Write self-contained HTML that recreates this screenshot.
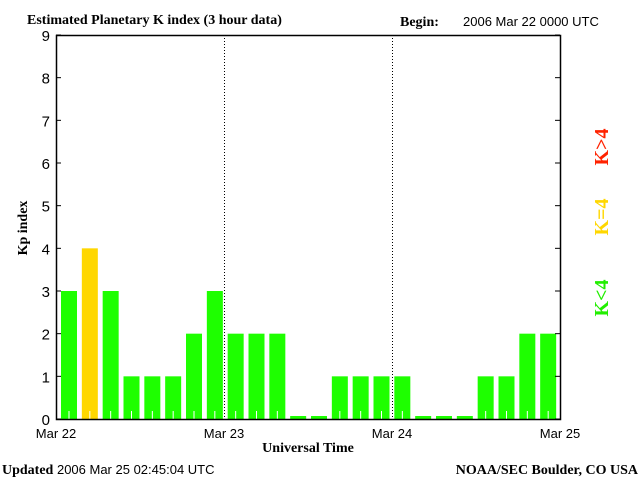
<!DOCTYPE html>
<html><head><meta charset="utf-8"><style>
body{margin:0;background:#fff;width:640px;height:480px;overflow:hidden}
svg{display:block}
.s{font-family:"Liberation Serif",serif;font-weight:bold}
.m{font-family:"Liberation Sans",sans-serif}
</style></head><body>
<svg id="c" width="640" height="480">
<text class="s" x="27" y="24" font-size="14">Estimated Planetary K index (3 hour data)</text>
<text class="s" x="400" y="26" font-size="14">Begin:</text>
<text class="m" x="463" y="26" font-size="13">2006 Mar 22 0000 UTC</text>
<text class="s" transform="translate(27,228) rotate(-90)" text-anchor="middle" font-size="14">Kp index</text>
<text class="s" x="308" y="452" text-anchor="middle" font-size="14">Universal Time</text>
<text x="2" y="474" font-size="14"><tspan class="s">Updated</tspan><tspan class="m" font-size="13"> 2006 Mar 25 02:45:04 UTC</tspan></text>
<text class="s" x="638" y="474" text-anchor="end" font-size="14">NOAA/SEC Boulder, CO USA</text>
<text class="s" transform="translate(608,298) rotate(-90)" text-anchor="middle" font-size="20" fill="#22ee00">K&lt;4</text>
<text class="s" transform="translate(608,217) rotate(-90)" text-anchor="middle" font-size="20" fill="#ffd700">K=4</text>
<text class="s" transform="translate(608,147) rotate(-90)" text-anchor="middle" font-size="20" fill="#ff2200">K&gt;4</text>
<g id="plot"></g>
</svg>
<script>
const kpValues=[3,4,3,1,1,1,2,3, 2,2,2,0,0,1,1,1, 1,0,0,0,1,1,2,2];
const yTicks=[0,1,2,3,4,5,6,7,8,9];
const dayLabels=["Mar 22","Mar 23","Mar 24","Mar 25"];
const L=56,R=560,T=35,B=419,NS="http://www.w3.org/2000/svg";
const x=i=>L+(R-L)*i/kpValues.length;
const bx=i=>L+5+i*((R-L)-4)/kpValues.length;
const y=v=>B-(B-T)*v/9;
const g=document.getElementById('plot');
function mk(t,a){const e=document.createElementNS(NS,t);for(const k in a)e.setAttribute(k,a[k]);g.appendChild(e);return e;}
const bw=16;
kpValues.forEach((v,i)=>{
  const top=v===0?B-3:y(v);
  const r=mk('rect',{x:bx(i),y:top,width:bw,height:B-top,fill:v>4?'#ff2200':(v===4?'#ffd700':'#1eff00')});
  
  
  if(v>0){const w=mk('line',{x1:bx(i)+bw/2,x2:bx(i)+bw/2,y1:B-8,y2:B,stroke:'#fff','stroke-width':1});
  
  }
});
for(let d=1;d<dayLabels.length-1;d++){
  const xx=x(d*8)+0.5;
  const l=mk('line',{x1:xx,x2:xx,y1:T,y2:B,stroke:'#000','stroke-dasharray':'1,2'});
  
  
}
const f=mk('rect',{x:L+0.5,y:T+0.5,width:R-L,height:B-T,fill:'none',stroke:'#000','stroke-width':1.5});


yTicks.forEach(v=>{
  const yy=y(v);
  const t1=mk('line',{x1:L,x2:L+5,y1:yy,y2:yy,stroke:'#000'});
  
  
  const t2=mk('line',{x1:R-5,x2:R,y1:yy,y2:yy,stroke:'#000'});
  
  
  const t=mk('text',{x:L-6,y:yy+6,'text-anchor':'end','font-size':15,'font-family':'Liberation Sans, sans-serif'});
  t.textContent=v;
  
  
});
dayLabels.forEach((s,d)=>{
  const t=mk('text',{x:x(d*8),y:438,'text-anchor':'middle','font-size':13,'font-family':'Liberation Sans, sans-serif'});
  t.textContent=s;
  
  
});
</script>
</body></html>
